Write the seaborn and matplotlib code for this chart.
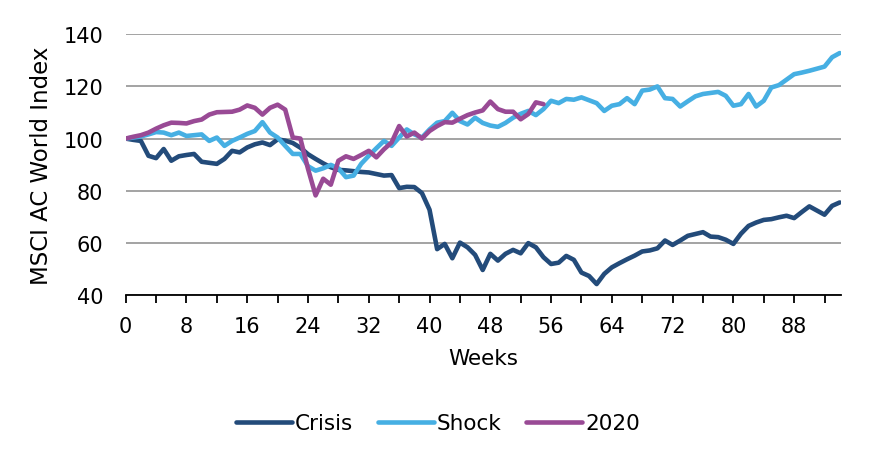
import numpy as np
import pandas as pd
import matplotlib
matplotlib.use("Agg")
import matplotlib.pyplot as plt
from matplotlib.ticker import MultipleLocator
import seaborn as sns

# weekly index levels (week 0 = 100)
weeks = list(range(95))

crisis = [100, 99.5, 99.1, 93.4, 92.5, 96, 91.5, 93.2, 93.7, 94.1,
          91.1, 90.7, 90.3, 92.2, 95.3, 94.7, 96.6, 97.8, 98.5, 97.5,
          99.7, 99.2, 98.3, 96.5, 94, 92.2, 90.5, 89, 88, 87.8,
          87.5, 87.2, 87, 86.4, 85.8, 86, 81, 81.5, 81.4, 79.1,
          72.7, 57.6, 59.6, 54.1, 60.1, 58.3, 55.4, 49.6, 55.8, 53.2,
          55.8, 57.3, 56, 59.9, 58.3, 54.5, 51.9, 52.4, 55, 53.5,
          48.6, 47.3, 44.2, 48.1, 50.6, 52.2, 53.7, 55.1, 56.7, 57.1,
          57.9, 60.9, 59.2, 60.9, 62.7, 63.4, 64.1, 62.4, 62.2, 61.2,
          59.6, 63.5, 66.5, 67.8, 68.8, 69.1, 69.8, 70.4, 69.5, 71.8,
          74, 72.4, 70.8, 74.2, 75.5]

shock = [100, 100.4, 100.8, 101.6, 102.5, 102.3, 101.3, 102.3, 101, 101.3,
         101.6, 99.1, 100.4, 97.2, 99.1, 100.4, 101.8, 102.9, 106.3, 102.3,
         100.4, 97.2, 94.1, 94.1, 89.4, 87.7, 88.6, 89.9, 88.6, 85.2,
         85.8, 90.3, 93.4, 96.3, 99.1, 97.2, 100.4, 103.5, 101.6, 100.4,
         103.5, 106.1, 106.7, 109.9, 106.7, 105.4, 108, 106, 105, 104.5,
         106, 108, 109.5, 110.6, 109, 111.3, 114.5, 113.6, 115.2, 114.9,
         115.8, 114.7, 113.6, 110.6, 112.6, 113.2, 115.5, 113.2, 118.4, 118.8,
         120, 115.5, 115.2, 112.3, 114.3, 116.2, 117.1, 117.5, 117.9, 116.4,
         112.6, 113.2, 117.1, 112.3, 114.5, 119.6, 120.5, 122.6, 124.7, 125.3,
         126, 126.8, 127.6, 131.2, 132.8]

y2020 = [100, 100.7, 101.3, 102.3, 103.8, 105.1, 106.1, 106, 105.8, 106.7,
         107.3, 109.2, 110.1, 110.2, 110.3, 111.1, 112.7, 111.8, 109.2, 111.8,
         113, 111.1, 100.4, 100, 88.4, 78.2, 84.6, 82.3, 91.5, 93.2,
         92.2, 93.7, 95.3, 92.8, 95.9, 98.5, 104.8, 100.8, 102.3, 100,
         102.9, 104.8, 106.3, 106.1, 107.6, 109, 110, 110.8, 114.2, 111.3,
         110.3, 110.3, 107.4, 109.4, 113.9, 113.2]

series = {"Crisis": crisis, "Shock": shock, "2020": y2020}
colors = {"Crisis": "#234b7a", "Shock": "#46afe3", "2020": "#994a95"}

sns.set_style("white")
plt.rcParams["font.family"] = ["DejaVu Sans"]
plt.rcParams["text.color"] = "black"
plt.rcParams["axes.labelcolor"] = "black"
plt.rcParams["xtick.color"] = "black"
plt.rcParams["ytick.color"] = "black"

fig = plt.figure(figsize=(8.76, 4.6), dpi=100)
ax = fig.add_axes([0.1435, 0.3565, 0.8168, 0.5668])

for name, vals in series.items():
    df = pd.DataFrame({"week": weeks[:len(vals)], "value": vals})
    sns.lineplot(data=df, x="week", y="value", ax=ax, color=colors[name],
                 linewidth=3.3, label=name, solid_capstyle="round",
                 solid_joinstyle="round")

ax.set_xlim(0, 94.2)
ax.set_ylim(40, 140)
ax.yaxis.set_major_locator(MultipleLocator(20))
ax.xaxis.set_major_locator(MultipleLocator(8))
ax.xaxis.set_minor_locator(MultipleLocator(4))
ax.grid(axis="y", color="#8a8a8a", linewidth=1.1)
ax.set_axisbelow(True)

for side in ["left", "right", "top"]:
    ax.spines[side].set_visible(False)
ax.spines["bottom"].set_color("black")
ax.spines["bottom"].set_linewidth(1.3)

ax.tick_params(axis="x", which="both", direction="out", length=6, width=1.3,
               color="black", bottom=True, labelsize=15, pad=9)
ax.tick_params(axis="y", length=0, labelsize=15, pad=16)

ax.set_xlabel("Weeks", fontsize=15.5, labelpad=9)
ax.set_ylabel("MSCI AC World Index", fontsize=16.5, labelpad=8)

handles, labels = ax.get_legend_handles_labels()
ax.get_legend().remove()
fig.legend(handles, labels, loc="center", bbox_to_anchor=(0.5, 0.078),
           ncol=3, frameon=False, fontsize=15.5, handlelength=2.6,
           handletextpad=0.15, columnspacing=1.15)

fig.savefig("out.png", dpi=100)
